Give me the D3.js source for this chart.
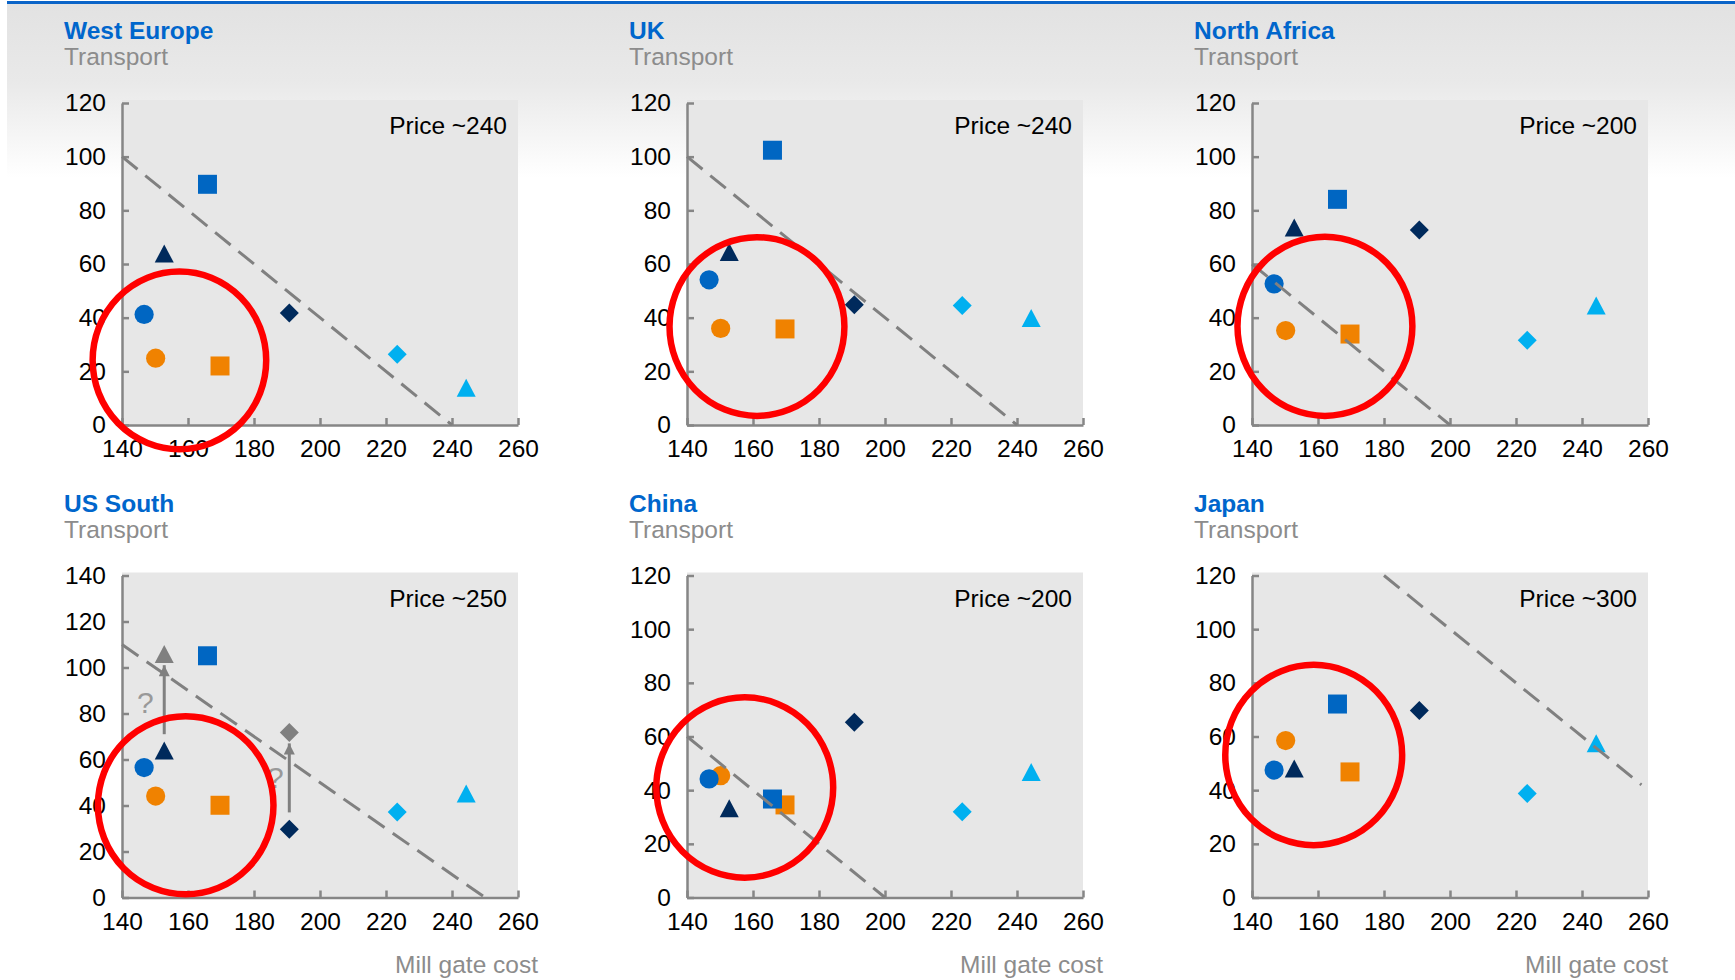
<!DOCTYPE html>
<html>
<head>
<meta charset="utf-8">
<script src="https://cdn.jsdelivr.net/npm/d3@7"></script>
<style>
  body { margin: 0; background: #fff; }
  svg { display: block; font-family: "Liberation Sans", Arial, sans-serif; }
</style>
</head>
<body>
<div class="chart"></div>
<script>
// ---- data ----
const regions = ["West Europe", "UK", "North Africa", "US South", "China", "Japan"];
const prices = [240, 240, 200, 250, 200, 300];
const yMax = [120, 120, 120, 140, 120, 120];
const xTicks = [140, 160, 180, 200, 220, 240, 260];

// mill gate cost of each supplier (same in every region)
const seriesNames = ["orangeCircle", "orangeSquare", "lbTriangle", "lbDiamond", "navyDiamond", "blueCircle", "blueSquare", "navyTriangle"];
const millGate = [150.2, 169.7, 244.3, 223.4, 190.7, 146.7, 165.9, 152.8];

// transport cost per region, same order as seriesNames
const westEurope = [24.9, 22.0, 13.9, 26.4, 41.7, 41.2, 89.7, 63.9];
const uk = [36.0, 35.8, 39.9, 44.5, 44.8, 54.1, 102.4, 64.5];
const northAfrica = [35.2, 33.9, 44.5, 31.6, 72.7, 52.6, 84.1, 73.6];
const usSouth = [44.1, 40.1, 45.2, 37.2, 29.7, 56.5, 105.1, 63.9];
const china = [45.4, 34.5, 46.8, 32.0, 65.3, 44.2, 36.7, 33.3];
const japan = [58.5, 46.8, 57.5, 38.8, 69.7, 47.5, 72.1, 48.1];
const transport = [westEurope, uk, northAfrica, usSouth, china, japan];

// break-even line (transport = price - mill gate), start / end mill gate
const lineX = [[140, 240], [140, 240], [140, 200], [140, 250], [140, 200], [180, 258]];

// red ring: centre and half-size in data units
const ringCx = [157.4, 161.2, 162.1, 159.3, 157.5, 158.7];
const ringCy = [24.1, 36.7, 36.8, 40.1, 41.0, 53.1];
const ringRx = [26.3, 26.5, 26.5, 26.6, 26.8, 26.8];
const ringRy = [33.1, 33.3, 33.4, 38.7, 33.6, 33.6];

// US South: possible moves
const usGreyTriangle = [152.8, 105.9];
const usGreyDiamond = [190.7, 71.7];
const usArrows = [[152.8, 71, 101], [190.7, 37, 67]];
const usQuestions = [[147.1, 84.9], [186.5, 52.6]];

// ---- styles ----
const styles = {
  orangeCircle: { shape: "circle", color: "#F08200" },
  orangeSquare: { shape: "square", color: "#F08200" },
  lbTriangle: { shape: "triangle", color: "#00B0F0" },
  lbDiamond: { shape: "diamond", color: "#00B0F0" },
  navyDiamond: { shape: "diamond", color: "#002A5C" },
  blueCircle: { shape: "circle", color: "#0066C2" },
  blueSquare: { shape: "square", color: "#0066C2" },
  navyTriangle: { shape: "triangle", color: "#002A5C" }
};

const width = 1735;
const height = 980;
const panelLeft = [122, 687, 1252];
const rowTop = [103, 575.5];
const plotW = 396;
const plotH = 322;
const fontSize = 24.5;

function shapePath(shape) {
  if (shape === "circle") return d3.symbol(d3.symbolCircle, Math.PI * 9.6 * 9.6)();
  if (shape === "square") return d3.symbol(d3.symbolSquare, 19 * 19)();
  if (shape === "diamond") return "M0,-9.5L9.5,0L0,9.5L-9.5,0Z";
  return "M0,-9L9.5,9L-9.5,9Z";
}

const svg = d3
  .select(".chart")
  .append("svg")
  .attr("width", width)
  .attr("height", height);

const defs = svg.append("defs");
const grad = defs.append("linearGradient").attr("id", "head").attr("x1", 0).attr("y1", 0).attr("x2", 0).attr("y2", 1);
grad.append("stop").attr("offset", 0).attr("stop-color", "#e2e2e2");
grad.append("stop").attr("offset", 0.45).attr("stop-color", "#e9e9e9");
grad.append("stop").attr("offset", 1).attr("stop-color", "#ffffff");

defs.append("marker")
  .attr("id", "arrow")
  .attr("viewBox", "0 0 10 10")
  .attr("refX", 10)
  .attr("refY", 5)
  .attr("markerUnits", "userSpaceOnUse")
  .attr("markerWidth", 12)
  .attr("markerHeight", 11)
  .attr("orient", "auto")
  .append("path")
  .attr("d", "M0,0L10,5L0,10Z")
  .attr("fill", "#808080");

// header band
svg.append("rect").attr("x", 7).attr("y", 3).attr("width", width - 7).attr("height", 175).attr("fill", "url(#head)");
svg.append("rect").attr("x", 7).attr("y", 1).attr("width", width - 7).attr("height", 3).attr("fill", "#0A64C8");

regions.forEach((region, i) => {
  const left = panelLeft[i % 3];
  const top = rowTop[Math.floor(i / 3)];
  const x = d3.scaleLinear().domain([140, 260]).range([left, left + plotW]);
  const y = d3.scaleLinear().domain([0, yMax[i]]).range([top + plotH, top]);
  const g = svg.append("g");

  // titles
  g.append("text")
    .attr("x", left - 58)
    .attr("y", top - 64)
    .attr("font-size", fontSize)
    .attr("font-weight", "bold")
    .attr("fill", "#0066CC")
    .text(region);
  g.append("text")
    .attr("x", left - 58)
    .attr("y", top - 38)
    .attr("font-size", fontSize)
    .attr("fill", "#8C8C8C")
    .text("Transport");

  // plot background
  g.append("rect")
    .attr("x", x(140))
    .attr("y", y(yMax[i]) - 3)
    .attr("width", x(260) - x(140))
    .attr("height", y(0) - y(yMax[i]) + 3)
    .attr("fill", "#E7E7E7");

  // axes
  const xAxis = g.append("g")
    .attr("transform", `translate(0,${y(0)})`)
    .call(d3.axisBottom(x).tickValues(xTicks).tickSizeInner(-7).tickSizeOuter(0).tickPadding(15));
  const yAxis = g.append("g")
    .attr("transform", `translate(${x(140)},0)`)
    .call(d3.axisLeft(y).tickValues(d3.range(0, yMax[i] + 1, 20)).tickSizeInner(-7).tickSizeOuter(0).tickPadding(16));
  [xAxis, yAxis].forEach((a) => {
    a.selectAll("path, line").attr("stroke", "#868686").attr("stroke-width", 2.5);
    a.selectAll("text").attr("font-size", fontSize).attr("fill", "#000");
    a.attr("font-family", null);
  });

  // markers
  g.selectAll("path.mark")
    .data(seriesNames)
    .enter()
    .append("path")
    .attr("class", "mark")
    .attr("d", (d) => shapePath(styles[d].shape))
    .attr("transform", (d, j) => `translate(${x(millGate[j])},${y(transport[i][j])})`)
    .attr("fill", (d) => styles[d].color);

  if (region === "US South") {
    g.append("path")
      .attr("d", shapePath("triangle"))
      .attr("transform", `translate(${x(usGreyTriangle[0])},${y(usGreyTriangle[1])})`)
      .attr("fill", "#808080");
    g.append("path")
      .attr("d", shapePath("diamond"))
      .attr("transform", `translate(${x(usGreyDiamond[0])},${y(usGreyDiamond[1])})`)
      .attr("fill", "#808080");
    g.selectAll("line.arrow")
      .data(usArrows)
      .enter()
      .append("line")
      .attr("class", "arrow")
      .attr("x1", (d) => x(d[0]))
      .attr("x2", (d) => x(d[0]))
      .attr("y1", (d) => y(d[1]))
      .attr("y2", (d) => y(d[2]))
      .attr("stroke", "#808080")
      .attr("stroke-width", 3)
      .attr("marker-end", "url(#arrow)");
    g.selectAll("text.q")
      .data(usQuestions)
      .enter()
      .append("text")
      .attr("class", "q")
      .attr("x", (d) => x(d[0]))
      .attr("y", (d) => y(d[1]) + 11)
      .attr("text-anchor", "middle")
      .attr("font-size", 30)
      .attr("fill", "#999999")
      .text("?");
  }

  // break-even dashed line
  g.append("line")
    .attr("x1", x(lineX[i][0]))
    .attr("y1", y(prices[i] - lineX[i][0]))
    .attr("x2", x(lineX[i][1]))
    .attr("y2", y(prices[i] - lineX[i][1]))
    .attr("stroke", "#808080")
    .attr("stroke-width", 3)
    .attr("stroke-dasharray", "20,10");

  // red ring
  g.append("ellipse")
    .attr("cx", x(ringCx[i]))
    .attr("cy", y(ringCy[i]))
    .attr("rx", x(ringCx[i] + ringRx[i]) - x(ringCx[i]))
    .attr("ry", y(ringCy[i]) - y(ringCy[i] + ringRy[i]))
    .attr("fill", "none")
    .attr("stroke", "#FF0000")
    .attr("stroke-width", 6.5);

  g.append("text")
    .attr("x", x(260) - 11)
    .attr("y", top + 31)
    .attr("text-anchor", "end")
    .attr("font-size", fontSize)
    .attr("fill", "#000")
    .text("Price ~" + prices[i]);

  if (i >= 3) {
    g.append("text")
      .attr("x", x(260) + 20)
      .attr("y", 973)
      .attr("text-anchor", "end")
      .attr("font-size", fontSize)
      .attr("fill", "#8C8C8C")
      .text("Mill gate cost");
  }
});
</script>
</body>
</html>
